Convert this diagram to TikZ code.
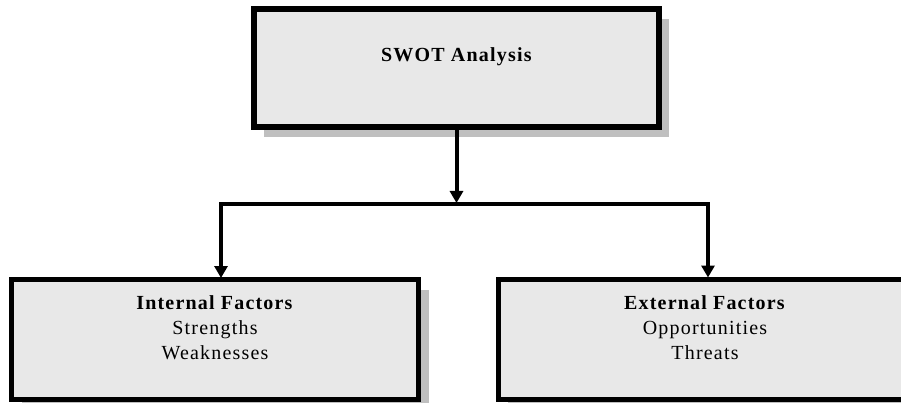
\documentclass[tikz,border=0pt]{standalone}
\usepackage{fontspec}
\setmainfont[LetterSpace=6]{Liberation Serif}
\usetikzlibrary{arrows.meta,shadows,calc}
\definecolor{boxfill}{HTML}{E8E8E8}
\definecolor{shadowgray}{HTML}{BFBFBF}
\tikzset{
  box/.style={draw=black, fill=boxfill, rectangle, inner sep=0pt,
    drop shadow={shadow xshift=10pt, shadow yshift=-10pt, fill=shadowgray, opacity=1}},
  topbox/.style={box, line width=6pt, minimum width=405pt, minimum height=118pt},
  botbox/.style={box, line width=5pt, minimum width=407pt, minimum height=120pt},
  lbl/.style={font=\fontsize{20}{25}\selectfont, align=center, inner sep=0pt},
  conn/.style={line width=4pt},
  arr/.style={conn, -{Triangle[length=12pt,width=13pt]}, shorten >=-1pt}
}
\begin{document}
\begin{tikzpicture}[x=1pt,y=-1pt]
\useasboundingbox (0,0) rectangle (901,403);
\node[topbox] (top) at (456.5,68) {};
\node[lbl, anchor=base] (toptxt) at (457,62) {\textbf{SWOT Analysis}};
\node[botbox] (left) at (215,339.5) {};
\node[botbox, minimum width=420pt] (right) at (708,339) {};
\node[lbl, anchor=north] (lefttxt) at (215,295) {\textbf{Internal Factors}\\Strengths\\Weaknesses};
\node[lbl, anchor=north] (righttxt) at (705,295) {\textbf{External Factors}\\Opportunities\\Threats};
\coordinate (j) at (456.5,202);
\coordinate (jl) at (221,204);
\coordinate (jr) at (708,204);
\draw[arr] (top.south) -- (j);
\draw[conn, line cap=rect] (jl) -- (jr);
\draw[arr] (jl) -- (jl |- left.north);
\draw[arr] (jr) -- (jr |- right.north);
\end{tikzpicture}
\end{document}
